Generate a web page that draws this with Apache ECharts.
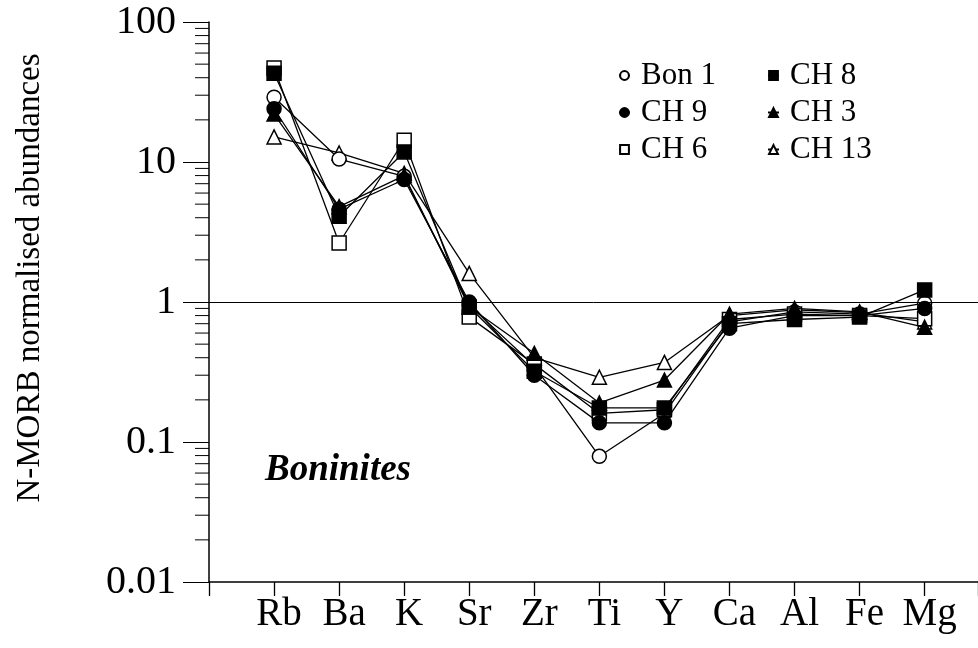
<!DOCTYPE html>
<html>
<head>
<meta charset="utf-8">
<script src="https://cdn.jsdelivr.net/npm/echarts@6/dist/echarts.min.js"></script>
<style>
html,body{margin:0;padding:0;background:#fff;}
#chart{width:978px;height:648px;}
</style>
</head>
<body>
<div id="chart"></div>
<script>
var elements = ['Rb','Ba','K','Sr','Zr','Ti','Y','Ca','Al','Fe','Mg'];
var bon1 = [29, 10.5, 7.9, 0.95, 0.35, 0.079, 0.16, 0.72, 0.85, 0.82, 0.98];
var ch9  = [24, 4.6, 7.5, 1.0, 0.30, 0.137, 0.137, 0.65, 0.80, 0.80, 0.90];
var ch6  = [47, 2.64, 14.3, 0.78, 0.36, 0.16, 0.17, 0.75, 0.82, 0.80, 0.76];
var ch8  = [43, 4.1, 11.8, 0.92, 0.32, 0.175, 0.175, 0.70, 0.75, 0.78, 1.22];
var ch3  = [22, 4.8, 8.0, 0.92, 0.43, 0.19, 0.277, 0.82, 0.90, 0.85, 0.66];
var ch13 = [15.1, 11.6, 8.3, 1.6, 0.40, 0.29, 0.37, 0.80, 0.88, 0.84, 0.72];
var yTickLabels = ['0.01','0.1','1','10','100'];
var minorTickValues = [0.02,0.03,0.04,0.05,0.06,0.07,0.08,0.09,
  0.2,0.3,0.4,0.5,0.6,0.7,0.8,0.9,
  2,3,4,5,6,7,8,9,
  20,30,40,50,60,70,80,90];

var FONT = '"Liberation Serif", "Times New Roman", serif';
var chart = echarts.init(document.getElementById('chart'));

function pts(arr){ return arr.map(function(v,i){ return [i, v]; }); }
function mkSeries(name, arr, symbol, filled, z){
  return {
    name: name, type: 'line', data: pts(arr), symbol: symbol, symbolSize: 14,
    showSymbol: true, z: z,
    lineStyle: {color: '#000', width: 1.3},
    itemStyle: {color: filled ? '#000' : '#fff', borderColor: '#000', borderWidth: 1.5},
    emphasis: {disabled: true}
  };
}

var series = [
  mkSeries('CH 13', ch13, 'triangle', false, 2),
  mkSeries('Bon 1', bon1, 'circle', false, 2),
  mkSeries('CH 6', ch6, 'rect', false, 2),
  mkSeries('CH 3', ch3, 'triangle', true, 3),
  mkSeries('CH 9', ch9, 'circle', true, 3),
  mkSeries('CH 8', ch8, 'rect', true, 3),
  {
    // minor ticks of the log y axis
    type: 'custom', silent: true, clip: false, z: 5,
    data: minorTickValues.map(function(v){ return [-1, v]; }),
    renderItem: function(params, api){
      var p = api.coord([api.value(0), api.value(1)]);
      return {type: 'rect', shape: {x: p[0] - 14, y: p[1] - 0.5, width: 14, height: 1},
        style: {fill: '#000'}};
    }
  }
];
series[0].markLine = {
  silent: true, symbol: 'none', label: {show: false},
  lineStyle: {color: '#000', width: 1, type: 'solid'},
  data: [{yAxis: 1}]
};

var option = {
  animation: false,
  backgroundColor: '#fff',
  grid: {left: 209, right: 0, top: 22, bottom: 66, containLabel: false},
  xAxis: {
    type: 'value', min: -1, max: 10.82, interval: 1,
    splitLine: {show: false},
    axisLine: {show: true, onZero: false, lineStyle: {color: '#000', width: 1.5}},
    axisTick: {show: true, length: 14, inside: false, lineStyle: {color: '#000', width: 1.3}},
    axisLabel: {customValues: [0,1,2,3,4,5,6,7,8,9,10], margin: 13,
      formatter: function(v){ return elements[Math.round(v)] || ''; },
      padding: [0,0,0,10],
      color: '#000', fontFamily: FONT, fontSize: 39}
  },
  yAxis: {
    type: 'log', logBase: 10, min: 0.01, max: 100,
    splitLine: {show: false},
    axisLine: {show: true, onZero: false, lineStyle: {color: '#000', width: 1.5}},
    axisTick: {show: true, length: 26, lineStyle: {color: '#000', width: 1}},
    axisLabel: {margin: 33, color: '#000', fontFamily: FONT, fontSize: 40,
      formatter: function(v){
        var e = Math.round(Math.log10(v)) + 2;
        return yTickLabels[e] !== undefined ? yTickLabels[e] : '';
      }}
  },
  legend: [
    {data: ['Bon 1','CH 9','CH 6'], orient: 'vertical', left: 613, top: 55,
      itemWidth: 11, itemHeight: 11, itemGap: 6, selectedMode: false,
      textStyle: {color: '#000', fontFamily: FONT, fontSize: 31, lineHeight: 31, padding: [0,0,0,6]}},
    {data: ['CH 8','CH 3','CH 13'], orient: 'vertical', left: 762, top: 55,
      itemWidth: 11, itemHeight: 11, itemGap: 6, selectedMode: false,
      textStyle: {color: '#000', fontFamily: FONT, fontSize: 31, lineHeight: 31, padding: [0,0,0,6]}}
  ],
  graphic: [
    {type: 'text', x: 30, y: 278, rotation: Math.PI/2,
      style: {text: 'N-MORB normalised abundances', fill: '#000', font: '33px ' + FONT,
        textAlign: 'center', textVerticalAlign: 'middle'}},
    {type: 'text', x: 265, y: 470,
      style: {text: 'Boninites', fill: '#000', font: 'italic bold 37px ' + FONT,
        textAlign: 'left', textVerticalAlign: 'middle'}}
  ],
  series: series
};
chart.setOption(option);
</script>
</body>
</html>
